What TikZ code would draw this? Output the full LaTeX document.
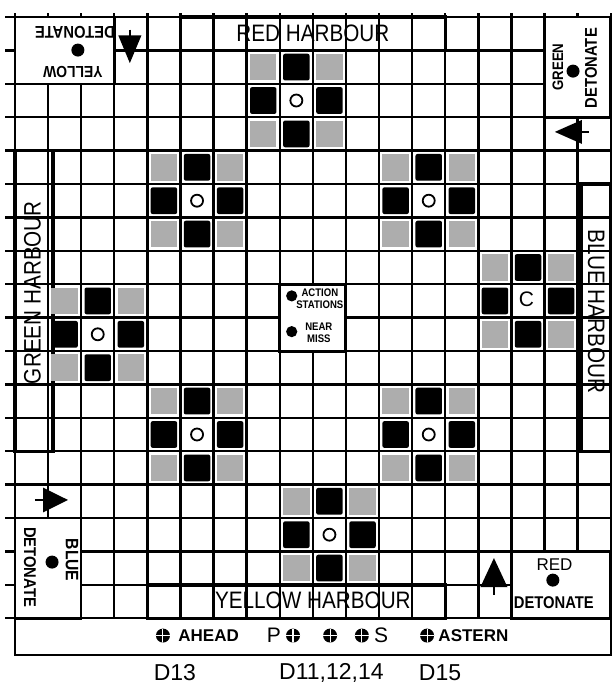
\documentclass[tikz,border=0pt]{standalone}
\usepackage{fontspec}
\setmainfont{Liberation Sans}
\newfontfamily\narrowfont{Liberation Sans}[FakeStretch=0.87]
\usetikzlibrary{positioning}
\tikzset{gridline/.style={draw=black,line width=1.2pt},harbour/.style={draw=black,line width=1.7pt},detbox/.style={draw=black,fill=white,line width=1.3pt},blackcell/.style={fill=black,rounded corners=1pt},dotcell/.style={fill=black!32},ring/.style={circle,draw=black,line width=0.9pt,minimum size=6pt,inner sep=0pt},bigdot/.style={circle,fill=black,minimum size=6.5pt,inner sep=0pt},shipmark/.style={circle,fill=black,minimum size=7pt,inner sep=0pt,path picture={\draw[white,line width=0.55pt] (path picture bounding box.north)--(path picture bounding box.south) (path picture bounding box.west)--(path picture bounding box.east);}},harbourlabel/.style={font=\narrowfont\fontsize{11.9}{13}\selectfont,inner sep=0pt},detlabel/.style={font=\narrowfont\bfseries\fontsize{8.5}{10}\selectfont,inner sep=0pt},colourlabel/.style={font=\narrowfont\bfseries\fontsize{#1}{10}\selectfont,inner sep=0pt},actionlabel/.style={font=\narrowfont\bfseries\fontsize{5.5}{6.2}\selectfont,align=center,inner sep=0pt},striplabel/.style={font=\bfseries\fontsize{8.5}{10}\selectfont,inner sep=0pt},sidelabel/.style={font=\fontsize{10.5}{12}\selectfont,inner sep=0pt},dlabel/.style={font=\fontsize{11.5}{13}\selectfont,inner sep=0pt},pointer/.style={fill=black},pointerstem/.style={draw=black,line width=1pt}}

\begin{document}
\begin{tikzpicture}[x=16.55pt,y=-16.7pt]
\useasboundingbox[fill=white] (-0.453,-0.509) rectangle (18.097,20.15);
% board grid
\foreach \i in {0,...,18}{\draw[gridline] (\i,-0.12)--(\i,18);\draw[gridline] (-0.3,\i)--(18,\i);}
% harbours
\path[harbour] (5,0) rectangle (13,1);
\path[harbour] (4,17) rectangle (13,18);
\path[harbour] (0,4) rectangle (1.15,13);
\path[harbour] (17.1,5) rectangle (18,13);
\node[harbourlabel] (redharbour) at (9,0.5) {RED HARBOUR};
\node[harbourlabel] (yellowharbour) at (9,17.45) {YELLOW HARBOUR};
\node[harbourlabel,rotate=90] (greenharbour) at (0.53,8.25) {GREEN HARBOUR};
\node[harbourlabel,rotate=-90] (blueharbour) at (17.56,8.82) {BLUE HARBOUR};
% mines
\foreach \cx/\cy in {8/2,5/5,12/5,2/9,15/8,5/12,12/12,9/15}{
  \foreach \dx/\dy/\kind in {-1/-1/dotcell,0/-1/blackcell,1/-1/dotcell,-1/0/blackcell,1/0/blackcell,-1/1/dotcell,0/1/blackcell,1/1/dotcell}
    \path[\kind] ({\cx+\dx+0.1},{\cy+\dy+0.1}) rectangle ++(0.8,0.8);
}
\foreach \cx/\cy in {8/2,5/5,12/5,2/9,5/12,12/12,9/15}\node[ring] (mine\cx\cy) at ({\cx+0.5},{\cy+0.5}) {};
\node[sidelabel] (mine158) at (15.45,8.45) {C};
% detonate boxes
\path[detbox] (0,0) rectangle (3,2);
\path[detbox] (16,0) rectangle (18,3);
\path[detbox] (15,16) rectangle (18,18);
\path[detbox] (0,15) rectangle (2,18);
\node[colourlabel=8,rotate=180] (yellowname) at (1.75,1.65) {YELLOW};
\node[bigdot] (yellowdot) at (1.9,0.99) {};
\node[detlabel,rotate=180] (yellowdet) at (1.81,0.45) {DETONATE};
\node[colourlabel=7.6,rotate=90] (greenname) at (16.4,1.5) {GREEN};
\node[bigdot] (greendot) at (16.86,1.62) {};
\node[detlabel,rotate=90] (greendet) at (17.4,1.53) {DETONATE};
\node[sidelabel,font=\fontsize{8.5}{10}\selectfont] (redname) at (16.3,16.41) {RED};
\node[bigdot] (reddot) at (16.25,16.86) {};
\node[detlabel] (reddet) at (16.28,17.54) {DETONATE};
\node[colourlabel=9,rotate=-90] (bluename) at (1.72,16.26) {BLUE};
\node[bigdot] (bluedot) at (1.12,16.32) {};
\node[detlabel,rotate=-90] (bluedet) at (0.45,16.47) {DETONATE};
% pointers
\fill[pointer] (3.12,0.55)--(3.82,0.55)--(3.47,1.38)--cycle;
\draw[pointerstem] (3.47,0.38)--(3.47,0.6);
\fill[pointer] (17.13,3.08)--(17.13,3.8)--(16.31,3.44)--cycle;
\draw[pointerstem] (17.1,3.44)--(17.33,3.44);
\fill[pointer] (14.06,17.07)--(14.88,17.07)--(14.47,16.2)--cycle;
\draw[pointerstem] (14.47,17)--(14.47,17.3);
\fill[pointer] (0.85,14.09)--(0.85,14.83)--(1.6,14.46)--cycle;
\draw[pointerstem] (0.6,14.46)--(0.88,14.46);
% action stations
\path[detbox,line width=1.5pt] (8,8) rectangle (10,10);
\node[bigdot,minimum size=5.6pt] (actiondot) at (8.36,8.35) {};
\node[actionlabel] (actiontext) at (9.21,8.44) {ACTION\\STATIONS};
\node[bigdot,minimum size=5.6pt] (neardot) at (8.36,9.42) {};
\node[actionlabel] (neartext) at (9.18,9.45) {NEAR\\MISS};
% bottom strip
\path[gridline] (0,18) rectangle (18,19.1);
\foreach \px/\nm in {4.47/a,8.4/b,9.52/c,10.48/d,12.45/e}\node[shipmark] (ship\nm) at (\px,18.52) {};
\node[striplabel] (ahead) at (5.85,18.52) {AHEAD};
\node[striplabel] (astern) at (13.85,18.52) {ASTERN};
\node[sidelabel] (portlabel) at (7.82,18.52) {P};
\node[sidelabel] (stbdlabel) at (11.06,18.52) {S};
\node[dlabel] (dthirteen) at (4.83,19.63) {D13};
\node[dlabel] (dcentre) at (9.56,19.63) {D11,12,14};
\node[dlabel] (dfifteen) at (12.84,19.63) {D15};
\end{tikzpicture}
\end{document}
